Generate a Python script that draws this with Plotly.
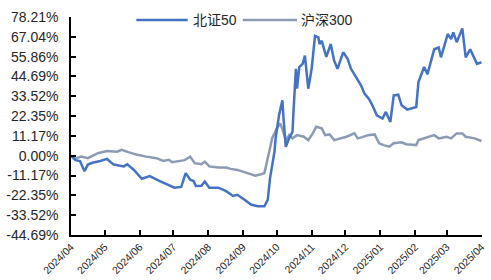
import plotly.graph_objects as go

# 北证50
bz_dates = ["2024-04-01","2024-04-05","2024-04-09","2024-04-13","2024-04-16","2024-04-20","2024-04-27",
            "2024-05-03","2024-05-09","2024-05-18","2024-05-21","2024-05-27","2024-06-03","2024-06-10",
            "2024-06-19","2024-06-25","2024-07-02","2024-07-08","2024-07-12","2024-07-16","2024-07-19",
            "2024-07-21","2024-07-26","2024-07-29","2024-08-02","2024-08-10","2024-08-17","2024-08-23",
            "2024-08-27","2024-09-02","2024-09-08","2024-09-14","2024-09-20","2024-09-23","2024-09-25",
            "2024-09-29","2024-09-30","2024-10-03","2024-10-06","2024-10-07","2024-10-09","2024-10-12",
            "2024-10-15","2024-10-16","2024-10-18","2024-10-19","2024-10-21","2024-10-24","2024-10-26",
            "2024-10-29","2024-11-01","2024-11-04","2024-11-07","2024-11-08","2024-11-10","2024-11-14",
            "2024-11-18","2024-11-21","2024-11-24","2024-11-29","2024-12-03","2024-12-06","2024-12-10",
            "2024-12-15","2024-12-18","2024-12-22","2024-12-25","2024-12-29","2025-01-03","2025-01-06",
            "2025-01-10","2025-01-13","2025-01-17","2025-01-20","2025-01-25","2025-02-02","2025-02-04",
            "2025-02-09","2025-02-12","2025-02-18","2025-02-22","2025-02-24","2025-03-02","2025-03-05",
            "2025-03-07","2025-03-10","2025-03-15","2025-03-18","2025-03-22","2025-03-28","2025-04-01"]
bz_vals = [0, -2.5, -3.0, -8.7, -5.0, -4.0, -3.0,
           -1.8, -5.0, -6.0, -4.8, -8.0, -13.0, -11.5,
           -14.3, -16.0, -18.0, -17.6, -9.8, -13.5, -14.3,
           -17.0, -16.9, -14.5, -18.0, -18.0, -20.0, -22.7,
           -22.0, -24.7, -27.5, -28.5, -28.5, -24.7, -12.6,
           2.5, 10.0, 22.8, 31.2, 21.0, 5.0, 9.8,
           13.5, 26.6, 49.0, 37.8, 50.0, 51.8, 56.4,
           37.8, 49.0, 67.6, 66.7, 63.0, 64.8, 55.7,
           63.0, 53.6, 49.0, 58.3, 54.6, 49.0, 45.0,
           39.6, 35.0, 32.0, 28.4, 22.8, 21.0, 24.7,
           19.0, 34.0, 34.4, 28.4, 26.0, 27.5, 41.5,
           50.0, 46.0, 60.0, 61.0, 55.5, 68.6, 65.8,
           69.5, 64.0, 71.8, 55.5, 60.0, 51.8, 52.7]

# 沪深300
hs_dates = ["2024-04-01","2024-04-04","2024-04-10","2024-04-16","2024-04-25","2024-05-03","2024-05-12",
            "2024-05-16","2024-05-22","2024-05-30","2024-06-07","2024-06-16","2024-06-22","2024-06-27",
            "2024-06-30","2024-07-05","2024-07-11","2024-07-16","2024-07-20","2024-07-26","2024-07-29",
            "2024-08-02","2024-08-10","2024-08-17","2024-08-21","2024-08-27","2024-09-02","2024-09-08",
            "2024-09-12","2024-09-17","2024-09-20","2024-09-21","2024-09-24","2024-09-27","2024-10-01",
            "2024-10-04","2024-10-06","2024-10-09","2024-10-12","2024-10-15","2024-10-19","2024-10-25",
            "2024-10-29","2024-11-02","2024-11-05","2024-11-10","2024-11-13","2024-11-17","2024-11-21",
            "2024-11-26","2024-12-02","2024-12-09","2024-12-12","2024-12-16","2024-12-21","2024-12-27",
            "2024-12-31","2025-01-04","2025-01-09","2025-01-13","2025-01-20","2025-01-24","2025-02-02",
            "2025-02-04","2025-02-09","2025-02-13","2025-02-18","2025-02-22","2025-03-01","2025-03-05",
            "2025-03-10","2025-03-15","2025-03-18","2025-03-26","2025-04-01"]
hs_vals = [0, -1.8, -0.5, -1.4, 1.4, 2.7, 2.3,
           3.3, 2.0, 0.5, -0.5, -1.4, -2.9, -2.3,
           -3.6, -3.0, -2.5, -0.5, -4.2, -4.8, -3.3,
           -6.0, -6.6, -6.6, -7.4, -8.0, -9.4, -10.7,
           -11.3, -10.4, -9.8, -7.0, 2.0, 10.0, 15.4,
           18.2, 15.0, 8.8, 11.6, 9.8, 11.6, 10.7,
           8.8, 12.6, 16.3, 15.4, 11.6, 12.0, 8.8,
           9.8, 10.7, 12.6, 9.8, 10.5, 11.6, 12.0,
           7.0, 6.0, 5.1, 7.0, 7.6, 6.5, 6.0,
           8.8, 9.8, 10.7, 11.6, 9.8, 10.7, 9.8,
           12.6, 12.6, 10.7, 9.8, 8.3]

y_ticks = [-44.69, -33.52, -22.35, -11.17, 0.00, 11.17, 22.35, 33.52, 44.69, 55.86, 67.04, 78.21]
y_tick_text = [f"{v:.2f}%" for v in y_ticks]
x_ticks = ["2024-04-01","2024-05-01","2024-06-01","2024-07-01","2024-08-01","2024-09-01","2024-10-01",
           "2024-11-01","2024-12-01","2025-01-01","2025-02-01","2025-03-01","2025-04-01"]
x_tick_text = ["2024/04","2024/05","2024/06","2024/07","2024/08","2024/09","2024/10",
               "2024/11","2024/12","2025/01","2025/02","2025/03","2025/04"]

names = ["北证50", "沪深300"]
colors = ["#4472C4", "#8C9BB3"]

fig = go.Figure()
fig.add_trace(go.Scatter(x=hs_dates, y=hs_vals, mode="lines", name=names[1],
                         line=dict(color=colors[1], width=2.5)))
fig.add_trace(go.Scatter(x=bz_dates, y=bz_vals, mode="lines", name=names[0],
                         line=dict(color=colors[0], width=2.5)))

font_family = "Liberation Sans, Arial, Noto Sans CJK SC, sans-serif"
fig.update_layout(
    width=491, height=280,
    margin=dict(l=71, r=4, t=17, b=42),
    paper_bgcolor="white", plot_bgcolor="white",
    showlegend=False,
    font=dict(family=font_family, color="#262626"),
    xaxis=dict(range=["2024-04-01", "2025-04-01 12:00"], tickvals=x_ticks, ticktext=x_tick_text,
               tickangle=-45, tickfont=dict(size=10.5), showgrid=False, zeroline=False,
               showline=True, linecolor="black", linewidth=1.5, ticklabeloverflow="allow",
               ticks="inside", ticklen=5, tickcolor="black", tickwidth=1.5),
    yaxis=dict(range=[-44.69, 78.21], tickvals=y_ticks, ticktext=y_tick_text,
               tickfont=dict(size=14), showgrid=False, zeroline=False,
               showline=True, linecolor="black", linewidth=1.5,
               ticks="inside", ticklen=5, tickcolor="black", tickwidth=1.5,
               ticklabelstandoff=8),
)

# legend drawn manually to match line-sample lengths
legend_items = [(0.159, 0.284, 0.293, names[0], colors[0]),
                (0.418, 0.550, 0.555, names[1], colors[1])]
for x0, x1, xt, nm, c in legend_items:
    fig.add_shape(type="line", xref="paper", yref="paper", x0=x0, x1=x1, y0=0.986, y1=0.986,
                  line=dict(color=c, width=2.5))
    fig.add_annotation(xref="paper", yref="paper", x=xt, y=0.986, text=nm, showarrow=False,
                       xanchor="left", yanchor="middle", font=dict(size=14, color="#262626"))

fig.write_html("out.html", config={"displayModeBar": False},
               post_script="document.body.style.margin='0';document.body.style.overflow='hidden';")
